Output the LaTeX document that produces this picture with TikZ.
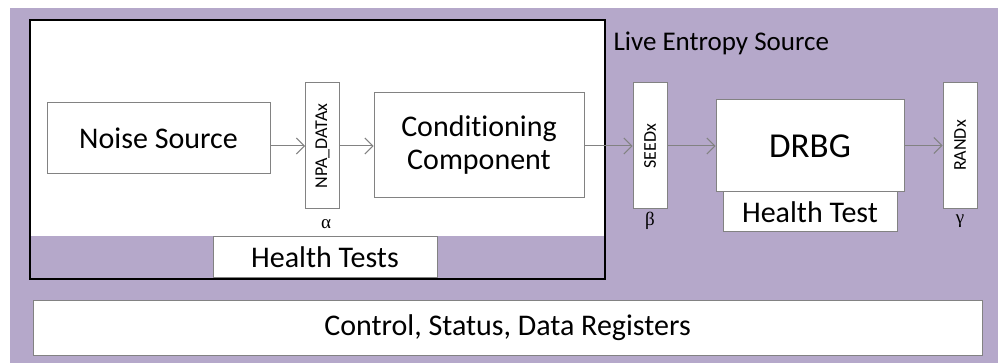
\documentclass[tikz,border=0pt]{standalone}
\usepackage{fontspec}
\setmainfont[Ligatures=NoCommon]{Carlito}
\newfontfamily\greekfont{Liberation Serif}
\usetikzlibrary{arrows.meta}

\definecolor{lilac}{RGB}{181,168,202}
\definecolor{boxline}{RGB}{130,130,130}

\begin{document}
\begin{tikzpicture}[x=1pt,y=-1pt,
  block/.style={draw=boxline, fill=white, line width=1pt, inner sep=0pt, align=center,
                font=\fontsize{30}{33}\selectfont},
  reg/.style={block, rotate=90, minimum width=126pt, minimum height=34pt,
              font=\fontsize{18}{20}\selectfont},
  lbl/.style={font=\greekfont\fontsize{19}{20}\selectfont},
  flow/.style={draw=boxline, line width=1pt, -{Straight Barb[length=8pt,width=16pt]}}]

\useasboundingbox (0,0) rectangle (998,363);
\fill[lilac] (10,8) rectangle (998,363);

\draw[black, line width=1.3pt, fill=lilac] (30,20) rectangle (605,279);
\fill[white] (31,21) rectangle (604,236);

\node[block, minimum width=223pt, minimum height=71pt] (noise) at (158.5,138.5) {Noise Source};
\node[reg] (npa) at (322.5,146) {NPA\_DATAx};
\node[lbl] (alpha) at (326,224) {α};
\node[block, minimum width=210pt, minimum height=105pt] (cond) at (479,145.5) {Conditioning\\Component};
\node[block, minimum width=224pt, minimum height=41pt] (tests) at (325,257.5) {Health Tests};

\node[anchor=west, font=\fontsize{27}{30}\selectfont] (les) at (610,43) {Live Entropy Source};

\node[reg] (seed) at (650,146) {SEEDx};
\node[lbl] (beta) at (650,221) {β};
\node[block, minimum width=188pt, minimum height=92pt, font=\fontsize{35}{38}\selectfont] (drbg) at (810,146) {DRBG};
\node[block, minimum width=174pt, minimum height=40pt] (test) at (810,212) {Health Test};
\node[reg] (rand) at (960,145.5) {RANDx};
\node[lbl] (gamma) at (960,221) {γ};

\node[block, minimum width=949pt, minimum height=55pt] (regs) at (507.5,327.5) {Control, Status, Data Registers};

\draw[flow] (noise.east |- npa) -- (npa);
\draw[flow] (npa) -- (npa -| cond.west);
\draw[flow] (cond.east |- seed) -- (seed);
\draw[flow] (seed) -- (seed -| drbg.west);
\draw[flow] (drbg.east |- rand) -- (rand);

\end{tikzpicture}
\end{document}
